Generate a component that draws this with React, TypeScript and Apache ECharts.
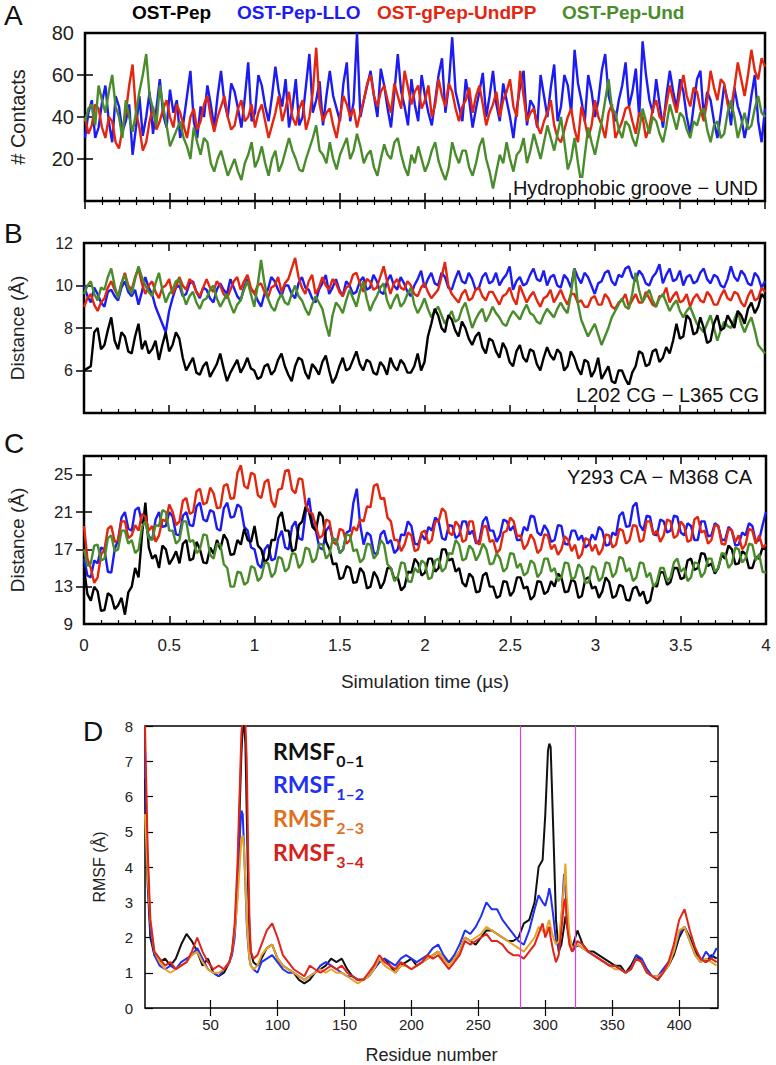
import React, { useEffect, useRef } from "react";
import * as echarts from "echarts";

// ---------- DATA ----------
// Panels A-C: time series sampled evenly from 0 to 4 µs
const TIME_MAX = 4;
const legendNames = ["OST-Pep", "OST-Pep-LLO", "OST-gPep-UndPP", "OST-Pep-Und"];

// A: # contacts, hydrophobic groove - UND
const A_LLO = [30,42,48,30,35,47,55,38,28,50,45,33,38,46,22,35,50,31,40,52,
32,44,58,41,35,53,42,48,30,38,50,62,38,30,45,40,55,46,35,50,
62,47,40,56,52,44,35,49,66,38,42,60,55,45,38,50,64,52,45,58,
35,44,58,36,40,55,70,42,48,57,36,50,62,50,44,38,56,66,38,47,
80,40,48,55,62,50,40,63,55,44,35,52,70,52,45,36,58,46,38,60,
50,42,36,48,60,68,42,55,78,52,45,38,58,48,35,44,52,61,40,50,
62,46,38,56,48,40,30,44,55,62,36,48,45,35,60,50,40,54,65,38,
45,60,55,42,72,56,48,38,60,52,40,48,62,70,50,44,38,48,55,66,
45,52,63,40,76,60,48,42,58,46,35,50,62,52,44,58,52,40,32,45,
58,62,40,52,48,38,30,42,55,48,36,54,45,40,30,38,50,60,38,28,
44];
const A_UndPP = [40,32,36,46,44,35,30,40,38,28,25,34,42,55,65,42,35,24,28,38,
45,34,38,44,48,40,35,46,42,36,30,40,44,34,38,46,50,40,33,40,
45,50,40,34,36,44,48,38,40,46,35,42,46,38,30,36,42,50,38,44,
52,40,36,44,48,34,40,52,73,46,38,42,44,36,30,40,50,46,40,44,
35,42,48,56,60,50,45,52,55,48,42,56,50,44,62,54,46,52,55,44,
48,55,40,46,58,50,45,56,52,44,38,45,48,54,42,50,55,46,36,42,
46,52,40,48,52,58,45,40,62,50,38,42,44,36,32,38,42,48,36,30,
28,34,40,44,34,28,45,38,30,36,48,40,36,30,42,46,30,34,38,44,
45,38,32,42,40,30,35,44,48,40,38,46,55,48,42,52,60,50,45,54,
52,44,38,48,62,54,48,58,56,46,44,54,66,58,50,60,72,62,58,68,
64];
const A_Und = [38,44,46,36,55,48,42,52,60,45,40,30,48,40,33,42,52,60,70,50,
44,36,55,45,36,26,30,34,38,30,26,20,35,28,22,30,28,18,14,20,
24,18,12,16,20,14,10,18,22,28,16,20,26,18,12,20,24,14,18,24,
30,24,20,15,14,20,25,30,36,24,22,18,28,20,15,22,26,30,20,24,
32,26,18,22,24,16,12,20,27,22,20,28,30,22,16,12,22,18,26,20,
14,18,24,28,19,14,10,16,28,22,18,24,24,16,12,18,26,30,20,14,
6,14,22,18,28,20,14,22,24,30,18,24,32,26,20,28,36,30,24,32,
40,28,15,20,30,18,8,22,35,28,22,30,38,48,58,44,42,34,30,38,
36,30,26,34,44,38,32,40,38,32,28,36,46,40,34,42,40,34,30,38,
36,42,44,34,28,36,38,30,32,42,48,40,30,36,42,34,36,44,50,42,
40];

// B: distance L202 CG - L365 CG (Å)
const B_Pep = [6.0,6.1,6.2,7.8,8.0,7.0,7.2,7.9,8.5,7.4,7.0,7.8,7.6,6.9,6.8,7.6,8.2,7.0,7.4,6.8,
7.0,7.4,6.5,7.2,7.8,6.9,7.2,7.8,7.5,6.6,6.0,6.3,6.6,5.9,5.8,6.2,6.4,5.7,6.0,6.3,
6.8,6.1,5.5,5.9,6.2,6.5,5.9,6.2,6.6,6.1,6.0,5.6,5.7,6.2,6.3,5.8,6.0,6.5,6.8,6.2,
5.8,5.5,6.2,6.6,6.5,5.9,5.6,6.3,6.1,5.8,6.4,6.7,6.0,5.4,5.7,6.2,6.6,6.0,6.1,6.5,
6.9,6.3,6.0,6.5,6.4,5.9,5.8,6.4,6.2,5.8,6.6,6.2,6.0,6.5,6.3,5.9,5.9,6.2,6.8,6.0,
6.4,7.6,8.2,8.9,8.6,8.0,7.8,8.6,8.4,7.9,7.6,8.3,8.0,7.5,7.2,7.6,7.8,7.1,6.8,7.5,
7.4,6.9,6.6,7.3,7.0,6.4,6.2,6.9,7.2,6.6,6.4,7.0,6.9,6.3,6.0,6.6,7.1,6.7,6.5,7.0,
6.8,6.0,6.2,6.9,6.6,6.1,5.8,6.5,6.4,5.7,6.0,6.6,5.6,5.9,6.2,5.5,5.4,6.0,6.0,5.6,
5.3,5.9,6.2,6.9,6.8,6.2,6.3,6.9,7.0,6.4,6.6,7.1,6.8,7.4,8.2,7.5,7.6,8.6,8.4,7.7,
7.8,8.5,8.0,7.3,7.4,8.2,8.6,7.9,8.0,8.6,8.3,8.0,8.8,8.6,8.2,8.9,9.2,8.7,9.0,9.6,
9.4];
const B_LLO = [10.0,9.5,9.2,9.9,9.6,9.2,9.0,9.7,9.8,9.5,9.3,9.9,10.2,9.7,9.5,9.8,9.1,9.7,10.4,9.9,
9.6,9.0,8.6,8.2,7.8,8.8,9.4,9.9,10.0,9.5,9.6,10.1,10.2,9.7,9.4,9.9,9.8,9.4,9.2,9.8,
10.1,9.8,9.6,10.3,9.9,9.5,9.3,9.9,10.3,9.8,9.7,9.3,9.0,9.6,9.8,10.4,10.2,9.8,9.5,10.0,
10.0,9.6,9.4,10.1,10.4,9.9,9.8,9.4,9.2,9.8,10.1,10.5,9.6,9.9,10.3,9.8,9.5,10.2,10.0,9.6,
9.7,10.2,10.4,9.8,9.9,10.5,10.2,9.7,9.6,10.2,10.5,10.0,9.8,10.4,10.1,9.7,9.5,10.0,10.3,10.7,
9.9,10.3,10.6,10.1,10.0,10.6,10.4,9.9,9.8,10.3,10.7,10.2,10.1,10.6,10.3,9.8,9.9,10.4,10.6,10.1,
10.2,10.6,10.0,10.3,10.5,10.9,9.8,10.2,10.4,10.0,10.1,10.5,10.8,10.3,10.2,10.7,10.0,10.4,10.5,10.0,
9.9,10.5,10.3,9.9,10.8,10.4,10.1,10.6,10.4,10.0,9.6,10.1,10.2,10.6,10.7,10.2,10.0,10.5,10.4,10.8,
10.9,10.4,10.2,10.7,10.5,10.1,10.0,10.4,10.6,11.0,10.1,10.5,10.8,10.2,10.3,10.7,10.0,10.4,10.5,10.1,
10.2,10.6,10.8,10.3,10.1,10.5,10.4,10.0,9.9,10.3,10.9,10.4,10.2,10.7,10.5,10.1,10.0,10.6,10.4,9.9,
10.2];
const B_UndPP = [9.0,9.4,9.6,9.1,8.8,9.2,9.4,9.9,10.2,9.8,9.5,10.1,10.6,10.0,9.8,10.4,10.8,10.1,9.6,10.0,
10.2,9.7,9.4,9.9,10.0,10.3,9.6,9.9,10.4,10.0,9.8,10.3,10.1,9.7,9.5,9.9,10.3,9.9,9.7,10.2,
10.0,9.6,9.4,9.8,10.2,10.4,9.8,10.2,10.5,9.9,9.6,10.0,10.1,9.7,9.4,9.9,10.0,10.4,9.7,10.1,
10.3,10.8,11.3,10.4,9.9,9.6,10.2,10.5,9.6,9.9,10.4,10.0,9.8,10.3,10.1,9.7,9.5,9.9,10.0,10.5,
10.6,10.1,9.7,10.3,10.2,9.8,9.9,10.4,10.9,10.2,9.6,10.1,10.3,9.9,9.8,10.2,10.0,9.6,9.5,9.9,
10.1,9.7,9.4,9.6,9.8,10.4,11.1,10.0,9.6,9.4,9.2,9.6,9.8,9.3,9.4,9.8,9.9,9.5,9.3,9.7,
9.7,9.4,9.1,9.5,9.6,9.9,9.4,9.1,10.0,9.6,9.2,9.5,9.7,9.3,9.0,9.4,9.5,9.8,9.2,9.5,
9.8,9.4,9.1,9.6,9.6,9.2,9.3,9.0,9.0,9.4,9.5,9.1,9.1,9.6,9.4,9.0,8.9,9.2,9.3,9.6,
9.0,9.3,9.6,9.2,9.2,9.7,9.4,9.1,9.0,9.5,9.5,9.9,9.2,9.5,9.7,9.2,9.3,9.6,9.0,9.4,
9.6,9.3,9.2,9.7,9.5,9.1,9.1,9.5,9.8,9.4,9.3,9.7,9.6,9.2,9.0,9.5,9.8,9.3,9.4,9.9,
9.7];
const B_Und = [9.6,10.0,10.2,9.6,9.3,9.9,9.8,10.4,10.8,10.0,9.4,10.1,10.5,9.9,9.6,10.3,10.9,10.4,10.0,9.7,
9.5,10.1,10.6,9.8,9.2,9.6,9.8,10.2,10.3,9.6,9.1,9.5,9.7,9.2,8.9,9.3,9.4,9.8,10.0,9.4,
9.0,9.3,9.6,9.1,8.7,9.1,9.3,9.8,10.2,9.6,9.0,10.0,11.2,10.1,9.4,9.0,8.8,9.3,9.6,9.2,
9.1,9.6,10.0,9.5,9.3,8.9,8.6,9.1,9.5,9.2,8.9,8.2,7.6,8.6,9.2,9.0,8.7,9.3,9.8,9.4,
9.0,9.7,10.2,9.4,8.8,9.2,9.5,9.9,10.1,9.3,8.9,9.3,9.6,9.0,9.2,9.6,9.9,9.1,8.7,9.0,
9.4,8.9,8.5,8.8,9.0,8.6,8.2,8.5,8.8,8.3,8.4,8.9,9.2,8.6,8.0,8.4,8.7,8.9,8.3,8.6,
9.0,8.7,8.5,8.2,8.1,8.5,8.8,8.6,8.4,8.8,9.1,8.7,8.6,8.3,8.2,8.6,8.9,8.7,8.5,8.9,
9.2,8.9,8.7,9.6,10.8,9.2,8.4,8.0,7.6,7.9,8.2,7.7,7.2,7.6,8.0,8.5,8.8,9.1,9.4,9.0,
8.9,9.6,10.6,9.8,9.2,9.5,9.8,9.3,9.0,9.4,9.6,9.2,8.8,9.1,9.3,8.8,8.5,8.8,9.0,8.6,
8.2,8.0,7.8,8.2,8.6,8.0,7.4,7.9,8.3,8.1,8.0,8.4,8.8,8.2,7.8,8.2,8.5,7.9,7.2,7.0,
6.8];

// C: distance Y293 CA - M368 CA (Å)
const C_Pep = [15,12.2,11.5,13,12.5,10.4,10.5,12.3,12,10.6,11,11.8,10,12.4,13,15,14,18.5,22,17.2,
16,16.4,15,17.4,17,15.4,16,16.8,15.5,17.6,18,15.8,16,17.8,17,15.6,15.5,17.2,16.5,18,
17,18.6,18,16.4,16.5,18,17.5,19.2,18,17.8,19.5,17.4,17,15.6,16,18,18,20.4,21,19,
19,16.8,17,19.6,20,21.6,21,19.4,19,21,20.5,17.8,17,15.4,15.5,13.8,14,15.2,15,13.4,
13.5,15,14.5,12.8,13,14.6,14,12.8,13.5,15,15,13.8,14,12.6,13,14.6,14.5,16,15.5,14.2,
14.5,16,16,14.6,15,17,17,15.8,16,14.6,15,13.4,13,14.4,14,12.4,12.5,14.2,14.5,13,
13,11.8,12,13.6,13.5,12,12.5,14,14,12.8,13,11.6,12,13.6,13.5,12.2,12.5,13.6,13,14.4,
14,12.4,12.5,13.8,13.5,11.8,12,13.8,14,12.8,13,11.8,12.5,14,13.5,11.8,12,13.2,13,11.6,
11.5,12.8,13,12,12.5,11.2,11.5,13.2,13,14.6,14.5,13.2,13.5,15,15,13.8,14,15.8,16,14.8,
15,16.6,16.5,15.2,15.5,14.4,15,16.4,16,17.4,17,15.4,15.5,16.8,16.5,15,15,16.2,16,17.2,
17];
const C_LLO = [16,14.2,14,15.8,15.5,17.2,17,14.6,14.5,17,18,20.4,21,19.2,19,21.2,21.5,19.8,20,18.4,
18,20.2,21,19.4,19.5,21,20.5,18.6,18.5,20.6,21,19.6,19.5,21.6,22,20.2,20,21.2,21,19.2,
19,21.4,22,20.4,20.5,21.8,21.5,19.4,19,17.2,17,15.4,15,17,17.5,15.8,16,18.2,19,17.2,
17,19.4,20,18.2,18,21,22.5,19.8,19,17.2,17,19,19.5,18,18,16.6,17,18.8,19,22,
23.5,19.6,17.5,18.8,18.5,16.6,16.5,18.6,19,17.6,18,16.6,17,18.6,18.5,20,19.5,17.6,17.5,18.6,
18,19.4,19,20.4,20,18.2,18,19.6,19.5,18.2,18.5,20,20,18.6,19,17.6,18,20,20.5,19,
19,17.8,18.5,20.2,20,19,19.5,18,18,19.4,19,20.6,20.5,18.8,18.5,19.6,19,17.8,18,19.6,
19.5,17.6,17.5,19,19,18,18.5,17.2,17.5,18.6,18,19.4,19,17.4,17.5,18.8,18.5,20.6,21,19.4,
19.5,21.6,22,19.6,19,20.6,20.5,18.6,18.5,20.2,20,18.8,19,20.6,20.5,18.8,18.5,19.8,19.5,18,
18,20,20,18.4,18.5,19.8,19.5,18,18,19.4,19,17.4,17.5,18.8,18.5,19.8,19.5,17.8,18,19.6,
21];
const C_UndPP = [19.5,16,15,13.4,14,16.4,17,19.2,19.5,17.8,18,20,20,18.2,18.5,19.6,19,20.8,20.5,19,
19.5,17.8,18.5,20.2,20,21.8,21,19.6,20,22.2,22.5,20.8,21,23.2,23.5,21.8,22,23.6,23,21.4,
21.5,23.8,24,22.4,22.5,25.2,26,23.8,23.5,25.2,25,22.8,22.5,24.2,24.5,22.2,21.5,23.4,23.5,25.4,
25.5,23.4,23,24.6,24.5,21.8,21,20.8,19.5,18.2,18.5,20.2,20,17.8,17.5,19.2,19,17.6,18,19.4,
19,20.2,20,21.6,21.5,23.8,24,22.4,22.5,20.4,20,18,18,16.8,17.5,18.8,18.5,16.8,17,18.8,
19,17.6,18,20,20,21.4,21,18.8,18.5,20,19.5,17.8,18,20,20,17.8,17.5,19.4,19.5,17.8,
18,16.6,17,18.8,19,20.4,20,18.4,18.5,17,17.5,18.6,18,16.6,17,18.6,18.5,17,17.5,16.4,
17,18.4,18,16.8,17.5,16,16.5,18.2,18,16.8,17.5,16.4,17,18.6,18.5,17.2,17.5,19.2,19,17.6,
18,19.6,19.5,17.8,18,20,20,18.6,19,17.8,18.5,20.2,20,18.2,18.5,20,19.5,17.8,18,20.2,
20.5,18.8,19,17.6,18,19.6,19.5,17.6,17.5,19.2,19,17.8,18.5,17,17.5,19.2,19,17.6,18.5,17.2,
17.5];
const C_Und = [17,15.2,15.5,17.4,17.5,15.8,16,18.2,18.5,16.8,17,19,19,17.6,18,16.6,17,19.4,20,18.2,
18,19.6,19.5,21.2,21,19,19,17.6,18,20,20,17.8,18,16.6,17,18.6,18.5,16.4,16,17.6,
17.5,15.4,15,13,13,14.6,14.5,13.2,13.5,15.2,15,13.6,14,15.6,15.5,14,14.5,16.2,16,14.6,
15,16.6,16.5,15,15.5,17.2,17,15.6,16,17.6,17.5,16,16.5,18.2,18,16.6,17,18.6,18.5,16.8,
17,15.6,16,17.6,17.5,16,16.5,18,17.5,15.4,15,13.6,14,15.6,15.5,13.6,13.5,15,14.5,15.8,
15.5,13.8,14,15.8,16,14.6,15,16.6,16.5,18,17.5,15.8,16,17.4,17,15.8,16.5,17.6,17,15.4,
15.5,16.6,16,14.6,15,16.6,16.5,15,15.5,14.2,14.5,15.8,15.5,14,14.5,16,16,14.6,15,13.6,
14,15.6,15.5,13.8,14,15.4,15,13.4,13.5,15.2,15,13.6,14,15.6,15.5,14,14.5,16.2,16,14.6,
15,13.6,14,15.6,15.5,14,14.5,13,13.5,15,15,13.6,14,15.6,16,14.6,15,13.6,14,15.6,
15.5,14,14.5,16,16,14.6,15,16.6,16.5,15,15.5,17.2,17,15.6,16,17.6,17.5,15.8,16.5,14.6,
14.5];

// D: RMSF per residue
const D_residue = [1,3,5,8,12,16,20,24,28,32, 36,40,44,48,52,56,60,64,66,68, 70,72,73,74,75,76,77,78,79,80, 82,85,88,92,96,100,104,108,112,116, 120,124,128,132,136,140,144,148,152,156, 160,164,168,172,176,180,184,188,192,196, 200,204,208,212,216,220,224,228,232,236, 240,244,248,252,256,260,264,268,272,276, 280,284,288,292,295,298,300,302,303,304, 306,308,310,312,314,315,316,318,320,324, 328,332,336,340,344,348,352,356,360,364, 368,372,376,380,384,388,392,396,400,404, 408,412,416,420,424,428];
const D_rmsf01 = [6.5,3.5,2.0,1.5,1.3,1.4,1.2,1.4,1.8,2.1, 1.9,1.6,1.2,1.4,1.0,0.9,1.0,1.3,1.6,2.2, 3.5,6.0,7.2,8.0,8.0,7.5,5.5,3.5,2.2,1.6, 1.3,1.2,1.4,1.7,1.8,1.4,1.2,1.1,1.0,0.8, 0.7,0.8,1.0,1.1,1.2,1.4,1.3,1.4,1.1,0.9, 0.8,0.8,0.9,1.1,1.3,1.4,1.2,1.0,1.2,1.3, 1.4,1.2,1.3,1.4,1.5,1.6,1.4,1.3,1.4,1.6, 2.0,1.9,1.8,2.0,2.2,2.2,2.1,2.0,1.9,1.9, 2.0,2.4,2.5,3.0,4.0,4.2,5.5,7.3,7.5,7.4, 5.0,2.5,1.6,1.8,2.3,2.6,2.4,2.0,1.7,2.2, 1.8,1.6,1.6,1.5,1.4,1.3,1.2,1.2,1.0,1.2, 1.5,1.3,1.0,0.9,0.8,1.0,1.2,1.5,2.0,2.3, 2.0,1.6,1.4,1.3,1.5,1.4];
const D_rmsf12 = [7.3,4.0,2.2,1.5,1.2,1.1,1.2,1.1,1.3,1.4, 1.5,1.7,1.4,1.1,1.0,0.9,1.1,1.3,1.5,2.0, 3.2,5.0,5.6,5.5,4.5,3.5,2.4,1.8,1.4,1.2, 1.1,1.0,1.3,1.4,1.5,1.3,1.1,1.0,1.0,0.9, 0.8,0.9,1.0,1.2,1.3,1.2,1.1,1.0,0.9,0.9, 0.8,0.8,0.9,1.1,1.3,1.4,1.3,1.2,1.4,1.5, 1.4,1.3,1.4,1.5,1.7,1.8,1.5,1.3,1.5,1.8, 2.2,2.1,2.3,2.6,3.0,2.8,2.8,2.5,2.3,2.1, 1.9,1.8,2.2,2.8,3.2,3.0,2.9,3.2,3.4,3.2, 2.6,1.9,1.7,2.5,3.8,3.4,2.8,2.0,1.6,1.8, 1.7,1.6,1.5,1.4,1.3,1.2,1.2,1.1,1.0,1.1, 1.5,1.4,1.1,0.9,0.9,1.1,1.3,1.6,2.1,2.3, 1.9,1.5,1.3,1.6,1.4,1.7];
const D_rmsf23 = [5.5,3.8,2.5,1.6,1.3,1.1,1.0,1.1,1.2,1.3, 1.5,1.6,1.3,1.1,1.0,1.0,1.1,1.3,1.6,2.2, 3.0,4.2,4.8,4.9,4.5,3.6,2.5,1.9,1.4,1.2, 1.1,1.2,1.5,1.7,1.8,1.4,1.2,1.1,1.0,0.9, 0.8,0.9,1.0,1.1,1.0,1.1,1.0,1.0,0.9,0.8, 0.7,0.8,0.9,1.1,1.4,1.2,1.1,1.0,1.2,1.2, 1.1,1.2,1.3,1.4,1.5,1.6,1.4,1.2,1.4,1.6, 2.0,1.9,2.0,2.1,2.3,2.2,2.1,2.0,1.9,1.8, 1.7,1.6,1.8,2.0,2.3,2.2,2.1,2.4,2.5,2.3, 2.0,1.8,1.9,2.6,3.5,4.1,3.2,2.1,1.7,1.8, 1.7,1.6,1.5,1.4,1.3,1.2,1.1,1.1,1.0,1.1, 1.4,1.3,1.0,0.9,0.9,1.0,1.2,1.6,2.2,2.3, 1.9,1.5,1.3,1.4,1.3,1.2];
const D_rmsf34 = [8.0,4.5,2.5,1.6,1.4,1.2,1.3,1.1,1.2,1.3, 1.6,2.0,1.6,1.3,1.1,1.2,1.1,1.3,1.6,2.4, 4.0,6.5,7.8,8.2,8.2,8.1,7.0,4.5,2.6,1.6, 1.4,1.5,1.8,2.2,2.4,2.0,1.5,1.3,1.1,1.0, 0.9,1.2,1.1,1.0,1.1,1.2,1.1,1.2,1.0,0.9, 0.8,0.8,1.0,1.2,1.5,1.3,1.2,1.1,1.3,1.2, 1.1,1.2,1.3,1.5,1.4,1.5,1.3,1.1,1.3,1.5, 1.9,1.8,1.9,2.0,2.1,1.9,1.9,1.8,1.6,1.5, 1.5,1.4,1.6,1.8,2.1,2.4,2.0,2.2,2.3,2.0, 1.6,1.3,1.5,2.2,3.0,3.1,2.4,1.8,1.6,1.9, 1.8,1.6,1.5,1.4,1.3,1.2,1.2,1.1,1.0,1.1, 1.4,1.3,1.0,0.9,0.8,1.0,1.3,1.8,2.5,2.8, 2.2,1.7,1.4,1.3,1.4,1.3];
const D_regionBounds = [281, 322];
const D_legendSubs = ["0\u20131", "1\u20132", "2\u20133", "3\u20134"];

// tick labels
const A_yLabels = [20, 40, 60, 80];
const B_yLabels = [6, 8, 10, 12];
const C_yLabels = [9, 13, 17, 21, 25];
const D_xLabels = [50, 100, 150, 200, 250, 300, 350, 400];

// ---------- STYLE ----------
const FONT = "'Liberation Sans', Arial, Helvetica, sans-serif";
const C_BLACK = "#000000";
const C_BLUE = "#1c1cf2";
const C_RED = "#e3260f";
const C_GREEN = "#4a8c2c";
const D_BLACK = "#111111";
const D_BLUE = "#2230f0";
const D_ORANGE = "#e8a322";
const D_RED = "#e2231a";
const MAGENTA = "#d640e6";

function timeSeries(vals: number[]) {
  const n = vals.length;
  return vals.map((v, i) => [(i * TIME_MAX) / (n - 1), v]);
}

function line(name: string, data: any[], color: string, gi: number, width: number) {
  return {
    type: "line",
    name,
    data,
    xAxisIndex: gi * 2,
    yAxisIndex: gi * 2,
    showSymbol: false,
    symbol: "none",
    lineStyle: { color, width },
    itemStyle: { color },
    z: 2,
  };
}

function textWidth(text: string, font: string) {
  const ctx = document.createElement("canvas").getContext("2d");
  if (!ctx) return text.length * 12;
  ctx.font = font;
  return ctx.measureText(text).width;
}

export default function App() {
  const ref = useRef<HTMLDivElement>(null);
  useEffect(() => {
    if (!ref.current) return;
    const chart = echarts.init(ref.current, undefined, { renderer: "svg" });

    const gridsPos = [
      { left: 84, top: 33, width: 681, height: 168 },
      { left: 84, top: 243, width: 681, height: 170 },
      { left: 84, top: 456, width: 682, height: 168 },
      { left: 145, top: 726, width: 573, height: 282 },
    ];
    const grid = gridsPos.map((g, i) => ({
      ...g,
      show: true,
      borderColor: "#000",
      borderWidth: i < 3 ? 2.5 : 1.5,
      backgroundColor: "transparent",
    }));

    const tickStyle = { color: "#000", width: 1.5 };
    const xAxis: any[] = [];
    const yAxis: any[] = [];
    for (let g = 0; g < 3; g++) {
      for (const pos of ["bottom", "top"]) {
        const main = pos === "bottom" && g === 2;
        xAxis.push({
          type: "value",
          gridIndex: g,
          position: pos,
          min: 0,
          max: TIME_MAX,
          interval: 0.5,
          axisLine: { show: false },
          splitLine: { show: false },
          axisTick: { show: true, inside: true, length: 8, lineStyle: tickStyle },
          minorTick: { show: true, splitNumber: 5, length: 4, lineStyle: { color: "#000", width: 1.2 } },
          axisLabel: { show: main, fontSize: 17, color: "#222", fontFamily: FONT, margin: 13 },
          name: main ? "Simulation time (\u00b5s)" : "",
          nameLocation: "middle",
          nameGap: 48,
          nameTextStyle: { fontSize: 19, color: "#222", fontFamily: FONT },
        });
      }
    }
    xAxis.push({
      type: "value", gridIndex: 3, position: "bottom", min: 1, max: 429,
      axisLine: { show: false }, splitLine: { show: false },
      axisTick: { show: true, inside: true, length: 8, customValues: D_xLabels, lineStyle: { color: "#000", width: 1.2 } },
      axisLabel: { show: true, customValues: D_xLabels, fontSize: 15, color: "#222", fontFamily: FONT, margin: 9 },
      name: "Residue number", nameLocation: "middle", nameGap: 38,
      nameTextStyle: { fontSize: 18, color: "#222", fontFamily: FONT },
    });
    xAxis.push({
      type: "value", gridIndex: 3, position: "top", min: 1, max: 429,
      axisLine: { show: false }, splitLine: { show: false },
      axisTick: { show: true, inside: true, length: 8, customValues: D_xLabels, lineStyle: { color: "#000", width: 1.2 } },
      axisLabel: { show: false },
    });

    const yDefs = [
      { min: 0, max: 80, labels: A_yLabels, ticks: [20, 40, 60], name: "# Contacts", fs: 20, nfs: 20 },
      { min: 4, max: 12, labels: B_yLabels, ticks: [6, 8, 10], name: "Distance (\u00c5)", fs: 16, nfs: 19 },
      { min: 9, max: 27, labels: C_yLabels, ticks: [13, 17, 21, 25], name: "Distance (\u00c5)", fs: 17, nfs: 19 },
    ];
    yDefs.forEach((d, g) => {
      for (const pos of ["left", "right"]) {
        const main = pos === "left";
        yAxis.push({
          type: "value", gridIndex: g, position: pos, min: d.min, max: d.max,
          axisLine: { show: false }, splitLine: { show: false },
          axisTick: { show: true, inside: true, length: 8, customValues: d.ticks, lineStyle: tickStyle },
          axisLabel: { show: main, customValues: d.labels, fontSize: d.fs, color: "#222", fontFamily: FONT, margin: 11 },
          name: main ? d.name : "",
          nameLocation: "middle",
          nameGap: 57,
          nameTextStyle: { fontSize: d.nfs, color: "#222", fontFamily: FONT },
        });
      }
    });
    for (const pos of ["left", "right"]) {
      const main = pos === "left";
      yAxis.push({
        type: "value", gridIndex: 3, position: pos, min: 0, max: 8, interval: 1,
        axisLine: { show: false }, splitLine: { show: false },
        axisTick: { show: true, inside: true, length: 8, lineStyle: { color: "#000", width: 1.2 } },
        axisLabel: { show: main, fontSize: 15, color: "#222", fontFamily: FONT, margin: 12 },
        name: main ? "RMSF (\u00c5)" : "",
        nameLocation: "middle",
        nameGap: 38,
        nameTextStyle: { fontSize: 16, color: "#222", fontFamily: FONT },
      });
    }

    const dPairs = (vals: number[]) => D_residue.map((r, i) => [r, vals[i]]);
    const LW = 2.4;
    const series: any[] = [
      line(legendNames[1], timeSeries(A_LLO), C_BLUE, 0, LW),
      line(legendNames[2], timeSeries(A_UndPP), C_RED, 0, LW),
      line(legendNames[3], timeSeries(A_Und), C_GREEN, 0, LW),
      line(legendNames[1], timeSeries(B_LLO), C_BLUE, 1, LW),
      line(legendNames[2], timeSeries(B_UndPP), C_RED, 1, LW),
      line(legendNames[3], timeSeries(B_Und), C_GREEN, 1, LW),
      line(legendNames[0], timeSeries(B_Pep), C_BLACK, 1, LW),
      line(legendNames[1], timeSeries(C_LLO), C_BLUE, 2, LW),
      line(legendNames[0], timeSeries(C_Pep), C_BLACK, 2, LW),
      line(legendNames[2], timeSeries(C_UndPP), C_RED, 2, LW),
      line(legendNames[3], timeSeries(C_Und), C_GREEN, 2, LW),
      line("RMSF0-1", dPairs(D_rmsf01), D_BLACK, 3, 2),
      line("RMSF1-2", dPairs(D_rmsf12), D_BLUE, 3, 2),
      line("RMSF2-3", dPairs(D_rmsf23), D_ORANGE, 3, 2),
      {
        ...line("RMSF3-4", dPairs(D_rmsf34), D_RED, 3, 2),
        markLine: {
          silent: true,
          symbol: ["none", "none"],
          label: { show: false },
          emphasis: { disabled: true },
          lineStyle: { color: MAGENTA, width: 1.2, type: "solid", opacity: 1 },
          data: D_regionBounds.map((x) => ({ xAxis: x, lineStyle: { color: MAGENTA, width: 1.2, type: "solid" } })),
        },
      },
    ];

    const legendColors = [C_BLACK, C_BLUE, C_RED, C_GREEN];
    const legendX = [132, 237, 377, 562];
    const graphic: any[] = [];
    legendNames.forEach((n, i) => {
      graphic.push({
        type: "text", x: legendX[i], y: 12,
        style: { text: n, fill: legendColors[i], fontSize: 19, fontWeight: "bold", fontFamily: FONT, verticalAlign: "middle" },
      });
    });
    const letters = [["A", 4, 15], ["B", 4, 233], ["C", 4, 443], ["D", 83, 731]];
    letters.forEach(([t, x, y]) => {
      graphic.push({ type: "text", x, y, style: { text: t, fill: "#111", fontSize: 28, fontFamily: FONT, verticalAlign: "middle" } });
    });
    const notes = [
      ["Hydrophobic groove \u2212 UND", 758, 188, 20],
      ["L202 CG \u2212 L365 CG", 759, 395, 20],
      ["Y293 CA \u2212 M368 CA", 752, 477, 20],
    ];
    notes.forEach(([t, x, y, fs]) => {
      graphic.push({
        type: "text", x, y,
        style: { text: t, fill: "#111", fontSize: fs, fontFamily: FONT, align: "right", verticalAlign: "middle", backgroundColor: "#fff" },
        z: 10,
      });
    });
    const dColors = [D_BLACK, D_BLUE, "#e0701e", "#d8201a"];
    const dLegY = [751, 784, 818, 852];
    const LFONT = "Lato, 'Open Sans', sans-serif";
    const mainW = textWidth("RMSF", `bold 23px ${LFONT}`);
    D_legendSubs.forEach((s, i) => {
      graphic.push({
        type: "text", x: 273, y: dLegY[i],
        style: { text: "RMSF", fill: dColors[i], fontSize: 23, fontWeight: "bold", fontFamily: LFONT, verticalAlign: "middle" },
        z: 10,
      });
      graphic.push({
        type: "text", x: 273 + mainW + 1, y: dLegY[i] + 9,
        style: { text: s, fill: dColors[i], fontSize: 16, fontWeight: "bold", fontFamily: LFONT, verticalAlign: "middle" },
        z: 10,
      });
    });

    chart.setOption({
      animation: false,
      backgroundColor: "#fff",
      grid,
      xAxis,
      yAxis,
      series,
      graphic,
    });
    return () => chart.dispose();
  }, []);
  return (
    <div
      ref={ref}
      style={{ position: "absolute", left: 0, top: 0, width: 776, height: 1065, background: "#fff" }}
    />
  );
}
